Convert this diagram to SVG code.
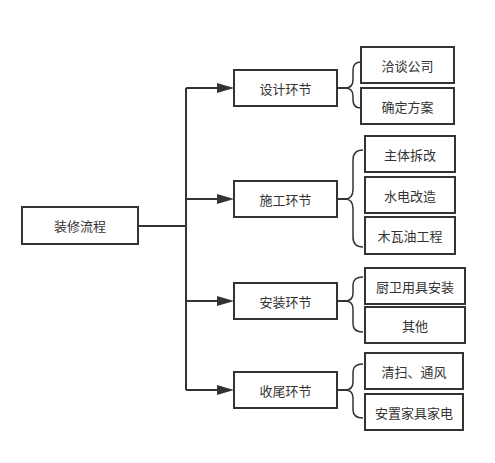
<svg xmlns="http://www.w3.org/2000/svg" width="495" height="463" viewBox="0 0 495 463">
<style>
.box{fill:#fff;stroke:#333;stroke-width:2}
.t{font-family:"Noto Sans CJK SC","Liberation Sans",sans-serif;font-size:13px;fill:#333;text-anchor:middle;dominant-baseline:central}
.ln{fill:none;stroke:#333;stroke-width:2}
.br{fill:none;stroke:#333;stroke-width:1.5}
.ah{fill:#333}
</style>
<rect width="495" height="463" fill="#fff"/>
<g id="connectors">
<path class="ln" d="M138,226 H186 M186,88 V390 M186,88 H220 M186,199 H220 M186,301 H220 M186,390 H220"/>
<path class="ah" d="M234,88 L217,83 L217,93 Z M234,199 L217,194 L217,204 Z M234,301 L217,296 L217,306 Z M234,390 L217,385 L217,395 Z"/>
<path class="ln" d="M337,88 H346 M337,199 H346 M337,301 H346 M337,390 H346"/>
<path class="br" d="M361,62 Q353,62 353,70 V80 Q353,88 345,88 Q353,88 353,96 V100 Q353,108 361,108"/>
<path class="br" d="M363,150 Q353,150 353,160 V189 Q353,199 345,199 Q353,199 353,209 V237 Q353,247 363,247"/>
<path class="br" d="M363,277 Q353,277 353,285 V293 Q353,301 345,301 Q353,301 353,309 V324 Q353,332 363,332"/>
<path class="br" d="M363,364 Q353,364 353,372 V382 Q353,390 345,390 Q353,390 353,398 V410 Q353,418 363,418"/>
</g>
<g id="root"><rect class="box" x="22" y="207" width="116" height="37"/><text class="t" x="80" y="225.5">装修流程</text></g>
<g id="design"><rect class="box" x="234" y="70" width="103" height="36"/><text class="t" x="285.5" y="88">设计环节</text></g>
<g id="build"><rect class="box" x="234" y="181" width="103" height="36"/><text class="t" x="285.5" y="199">施工环节</text></g>
<g id="install"><rect class="box" x="234" y="283" width="103" height="36"/><text class="t" x="285.5" y="301">安装环节</text></g>
<g id="finish"><rect class="box" x="234" y="372" width="103" height="36"/><text class="t" x="285.5" y="390">收尾环节</text></g>
<g id="d1"><rect class="box" x="361" y="47" width="93" height="36"/><text class="t" x="407.5" y="65">洽谈公司</text></g>
<g id="d2"><rect class="box" x="361" y="88" width="93" height="36"/><text class="t" x="407.5" y="106">确定方案</text></g>
<g id="b1"><rect class="box" x="365" y="136" width="90" height="36"/><text class="t" x="410" y="154">主体拆改</text></g>
<g id="b2"><rect class="box" x="365" y="177" width="90" height="36"/><text class="t" x="410" y="195">水电改造</text></g>
<g id="b3"><rect class="box" x="365" y="217" width="90" height="37"/><text class="t" x="410" y="235.5">木瓦油工程</text></g>
<g id="i1"><rect class="box" x="365" y="268" width="100" height="36"/><text class="t" x="415" y="286">厨卫用具安装</text></g>
<g id="i2"><rect class="box" x="365" y="307" width="100" height="36"/><text class="t" x="415" y="325">其他</text></g>
<g id="f1"><rect class="box" x="365" y="353" width="98" height="36"/><text class="t" x="414" y="371">清扫、通风</text></g>
<g id="f2"><rect class="box" x="365" y="394" width="98" height="36"/><text class="t" x="414" y="412">安置家具家电</text></g>
</svg>
